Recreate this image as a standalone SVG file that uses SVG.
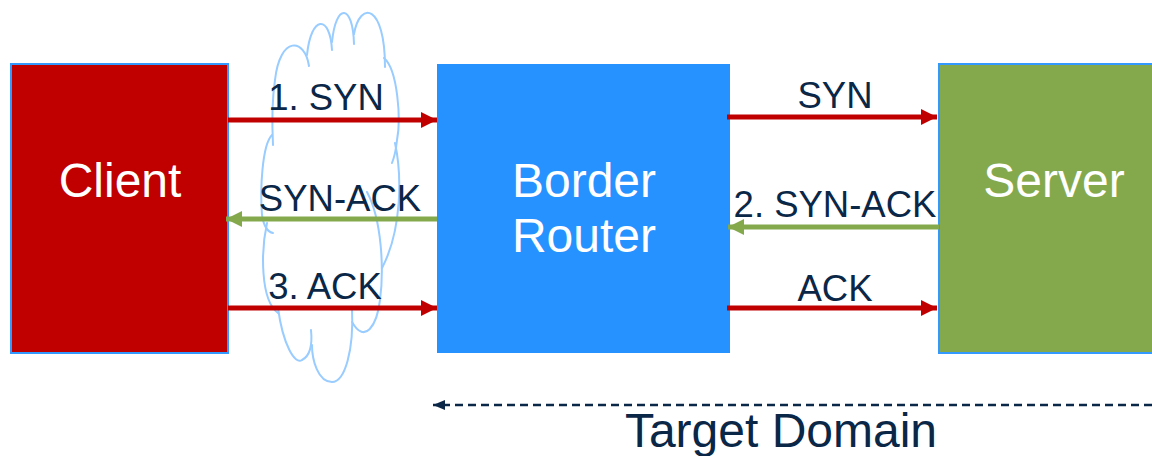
<svg xmlns="http://www.w3.org/2000/svg" width="1152" height="456" viewBox="0 0 1152 456">
  <style>
    .box { stroke: #3399ff; stroke-width: 2; }
    .node-text { font-family: "Liberation Sans", Arial, sans-serif; font-size: 48px; fill: #ffffff; text-anchor: middle; }
    .label { font-family: "Liberation Sans", Arial, sans-serif; font-size: 36.5px; fill: #0b2748; text-anchor: middle; }
    .red { stroke: #c00000; stroke-width: 5; fill: none; }
    .green { stroke: #84a94d; stroke-width: 5; fill: none; }
    .cloud { fill: none; stroke: #99ccff; stroke-width: 2; stroke-linecap: round; }
  </style>
  <defs>
    <marker id="head-red" markerUnits="userSpaceOnUse" markerWidth="16" markerHeight="18" refX="16" refY="9" orient="auto">
      <path d="M0,1 L16,9 L0,17 Z" fill="#c00000"/>
    </marker>
    <marker id="head-green" markerUnits="userSpaceOnUse" markerWidth="16" markerHeight="18" refX="16" refY="9" orient="auto">
      <path d="M0,1 L16,9 L0,17 Z" fill="#84a94d"/>
    </marker>
    <marker id="head-navy" markerUnits="userSpaceOnUse" markerWidth="12" markerHeight="10" refX="12" refY="5" orient="auto">
      <path d="M0,0 L12,5 L0,10 Z" fill="#0b2748"/>
    </marker>
  </defs>

  <!-- tall network cloud: each lobe is an open curve, overlapping its neighbours -->
  <g id="cloud">
    <path class="cloud" d="M309,66 C305,38 280,35 275,80 C272,100 272,125 273,145"/>
    <path class="cloud" d="M307,55 C311,15 330,14 332,50"/>
    <path class="cloud" d="M332,42 C336,2 353,4 354,44"/>
    <path class="cloud" d="M354,34 C360,0 385,4 385,67"/>
    <path class="cloud" d="M384,58 C398,70 401,120 397,140 C396,150 394,158 392,163"/>
    <path class="cloud" d="M395,143 C402,175 402,230 382,268"/>
    <path class="cloud" d="M367,192 C382,220 384,270 380,300 C377,325 365,345 352,322"/>
    <path class="cloud" d="M352,308 C354,350 345,382 332,382 C318,382 312,360 312,345"/>
    <path class="cloud" d="M278,308 C283,345 295,365 302,360 C312,355 312,340 311,330"/>
    <path class="cloud" d="M267,223 C261,250 260,300 278,313"/>
    <path class="cloud" d="M272,135 C262,145 260,190 262,215 C264,228 268,232 273,233"/>
  </g>

  <g id="client">
    <rect class="box" x="11" y="64" width="217" height="289" fill="#c00000"/>
    <text class="node-text" x="120" y="197">Client</text>
  </g>

  <g id="border-router">
    <rect x="437" y="64" width="293" height="289" fill="#2592ff"/>
    <text class="node-text" x="584" y="197">Border</text>
    <text class="node-text" x="584" y="252">Router</text>
  </g>

  <g id="server">
    <rect class="box" x="939" y="64" width="220" height="289" fill="#84a94d"/>
    <text class="node-text" x="1054" y="197">Server</text>
  </g>

  <g id="connectors">
    <line class="red" x1="228" y1="120" x2="437" y2="120" marker-end="url(#head-red)"/>
    <line class="green" x1="437" y1="219" x2="226" y2="219" marker-end="url(#head-green)"/>
    <line class="red" x1="228" y1="308" x2="437" y2="308" marker-end="url(#head-red)"/>
    <line class="red" x1="727" y1="117" x2="937" y2="117" marker-end="url(#head-red)"/>
    <line class="green" x1="939" y1="227" x2="728" y2="227" marker-end="url(#head-green)"/>
    <line class="red" x1="727" y1="308" x2="937" y2="308" marker-end="url(#head-red)"/>
    <line x1="1152" y1="405" x2="433" y2="405" stroke="#0b2748" stroke-width="2.5" stroke-dasharray="8 5" marker-end="url(#head-navy)"/>
  </g>

  <g id="labels">
    <text class="label" x="326" y="110">1. SYN</text>
    <text class="label" x="340" y="211">SYN-ACK</text>
    <text class="label" x="325" y="299">3. ACK</text>
    <text class="label" x="835" y="108">SYN</text>
    <text class="label" x="835" y="217">2. SYN-ACK</text>
    <text class="label" x="835" y="301">ACK</text>
    <text x="781" y="447" font-family="Liberation Sans, Arial, sans-serif" font-size="48" fill="#0b2748" text-anchor="middle">Target Domain</text>
  </g>
</svg>
